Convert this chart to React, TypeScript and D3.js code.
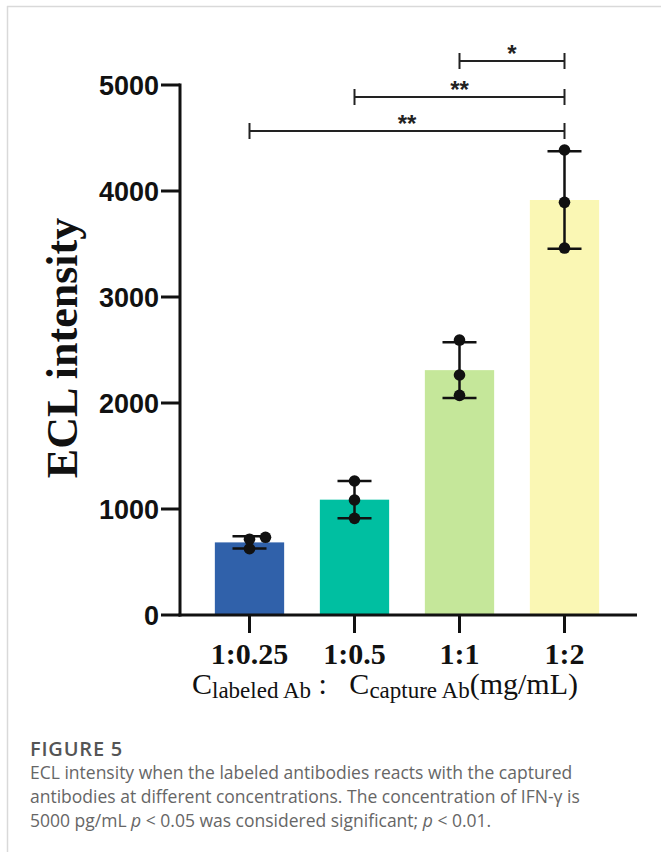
import React from "react";
import * as d3 from "d3";

const categories = ["1:0.25", "1:0.5", "1:1", "1:2"];
const means = [685, 1088, 2310, 3915];
const errors = [57, 176, 262, 460];
const points = [
  [625, 715, 733],
  [912, 1085, 1264],
  [2072, 2264, 2594],
  [3462, 3893, 4387],
];
const pointOffsets = [
  [0, 0, 16],
  [0, 0, 0],
  [0, 0, 0],
  [0, 0, 0],
];
const colors = ["#3061aa", "#00bfa1", "#c5e79a", "#faf7b4"];
const yTicks = [0, 1000, 2000, 3000, 4000, 5000];
const sigPairs = [
  { from: 2, to: 3, label: "*" },
  { from: 1, to: 3, label: "**" },
  { from: 0, to: 3, label: "**" },
];
const sigLevels = [61, 97, 131];
const captionLines = [
  "ECL intensity when the labeled antibodies reacts with the captured",
  "antibodies at different concentrations. The concentration of IFN-\u03b3 is",
];

export default function App() {
  const W = 661;
  const H = 852;
  const axisX = 180;
  const y = d3.scaleLinear().domain([0, 5000]).range([615, 85]);
  const x = d3
    .scaleBand<string>()
    .domain(categories)
    .range([197, 617])
    .paddingInner(0.34)
    .paddingOuter(0.17);
  const bw = x.bandwidth();
  const cx = (i: number) => (x(categories[i]) as number) + bw / 2;
  const sans = "'Liberation Sans', Arial, sans-serif";
  const serif = "'Liberation Serif', 'Times New Roman', serif";
  const capFont = "'Open Sans', 'Noto Sans', sans-serif";

  return (
    <svg
      width={W}
      height={H}
      style={{ position: "absolute", left: 0, top: 0, background: "#fff" }}
    >
      {/* card frame */}
      <line x1={7} x2={W} y1={6.5} y2={6.5} stroke="#d9d9d9" strokeWidth={1.5} />
      <line x1={7.5} x2={7.5} y1={6} y2={H} stroke="#d9d9d9" strokeWidth={1.5} />

      {/* bars */}
      {categories.map((c, i) => (
        <rect
          key={c}
          x={x(c)}
          y={y(means[i])}
          width={bw}
          height={y(0) - y(means[i])}
          fill={colors[i]}
        />
      ))}

      {/* error bars */}
      {categories.map((c, i) => {
        const cxx = cx(i);
        const hi = y(means[i] + errors[i]);
        const lo = y(means[i] - errors[i]);
        return (
          <g key={"e" + c} stroke="#111" strokeWidth={2.5}>
            <line x1={cxx} x2={cxx} y1={hi} y2={lo} />
            <line x1={cxx - 17} x2={cxx + 17} y1={hi} y2={hi} />
            <line x1={cxx - 17} x2={cxx + 17} y1={lo} y2={lo} />
          </g>
        );
      })}

      {/* points */}
      {points.map((ps, i) =>
        ps.map((v, j) => (
          <circle
            key={"p" + i + "-" + j}
            cx={cx(i) + pointOffsets[i][j]}
            cy={y(v)}
            r={5.8}
            fill="#111"
          />
        ))
      )}

      {/* y axis */}
      <line x1={axisX} x2={axisX} y1={y(5000) - 1.5} y2={y(0) + 1.5} stroke="#111" strokeWidth={3} />
      {yTicks.map((t) => (
        <g key={"yt" + t}>
          <line x1={axisX - 19} x2={axisX} y1={y(t)} y2={y(t)} stroke="#111" strokeWidth={3} />
          <text
            x={axisX - 21}
            y={y(t)}
            dy="0.36em"
            textAnchor="end"
            fontFamily={sans}
            fontWeight="bold"
            fontSize={27}
            fill="#111"
          >
            {t}
          </text>
        </g>
      ))}
      <text
        transform={`translate(77,348) rotate(-90)`}
        textAnchor="middle"
        fontFamily={serif}
        fontWeight="bold"
        fontSize={44}
        fill="#111"
      >
        ECL intensity
      </text>

      {/* x axis */}
      <line x1={axisX - 1.5} x2={637} y1={y(0)} y2={y(0)} stroke="#111" strokeWidth={3} />
      {categories.map((c, i) => (
        <g key={"xt" + c}>
          <line x1={cx(i)} x2={cx(i)} y1={y(0)} y2={y(0) + 18} stroke="#111" strokeWidth={3} />
          <text
            x={cx(i)}
            y={664}
            textAnchor="middle"
            fontFamily={serif}
            fontWeight="bold"
            fontSize={30}
            fill="#111"
          >
            {c}
          </text>
        </g>
      ))}
      <text x={192} y={694} fontFamily={serif} fontSize={30} fill="#111">
        C
        <tspan fontSize={23} dy={4}>labeled Ab</tspan>
        <tspan dy={-4}>{"\u00a0:\u00a0\u00a0\u00a0"}</tspan>
        <tspan>C</tspan>
        <tspan fontSize={23} dy={4}>capture Ab</tspan>
        <tspan dy={-4}>(mg/mL)</tspan>
      </text>

      {/* significance brackets */}
      {sigPairs.map((s, k) => {
        const ly = sigLevels[k];
        const x1 = cx(s.from);
        const x2 = cx(s.to);
        return (
          <g key={"s" + k}>
            <line x1={x1} x2={x2} y1={ly} y2={ly} stroke="#222" strokeWidth={2.2} />
            <line x1={x1} x2={x1} y1={ly - 8} y2={ly + 8} stroke="#222" strokeWidth={2} />
            <line x1={x2} x2={x2} y1={ly - 8} y2={ly + 8} stroke="#222" strokeWidth={2} />
            <text
              x={(x1 + x2) / 2}
              y={ly + 1}
              textAnchor="middle"
              fontFamily={sans}
              fontWeight="bold"
              fontSize={24}
              fill="#222"
            >
              {s.label}
            </text>
          </g>
        );
      })}

      {/* caption */}
      <text x={30} y={756} fontFamily={capFont} fontWeight={600} fontSize={20} letterSpacing={0.8} fill="#555">
        FIGURE 5
      </text>
      {captionLines.map((l, i) => (
        <text key={"c" + i} x={30} y={779 + i * 24} fontFamily={capFont} fontSize={17.5} fill="#666">
          {l}
        </text>
      ))}
      <text x={30} y={827} fontFamily={capFont} fontSize={17.5} fill="#666">
        5000 pg/mL <tspan fontStyle="italic">p</tspan> {"< 0.05 was considered significant; "}
        <tspan fontStyle="italic">p</tspan> {"< 0.01."}
      </text>
    </svg>
  );
}
